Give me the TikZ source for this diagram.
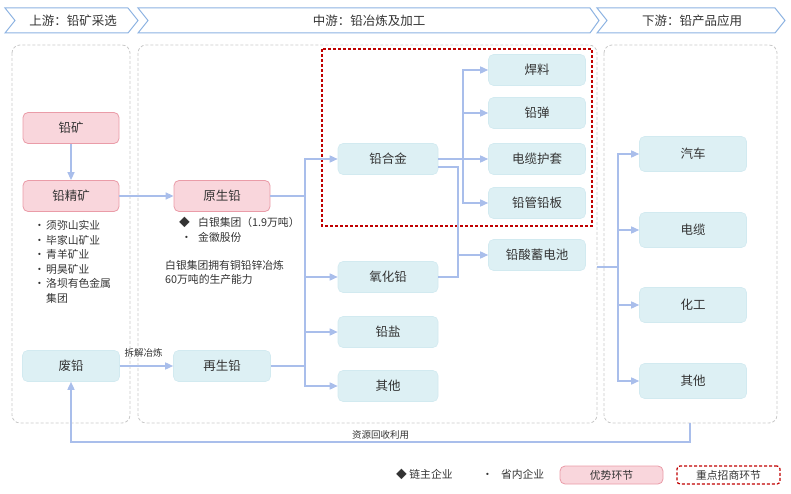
\documentclass[tikz,border=0pt]{standalone}
\usepackage{fontspec}
\setmainfont{Noto Sans CJK SC}
\usetikzlibrary{arrows.meta, positioning, calc}
\definecolor{hdrblue}{HTML}{8DB3E2}
\definecolor{pkfill}{HTML}{F9D6DC}
\definecolor{pkdraw}{HTML}{EA9CA8}
\definecolor{cyfill}{HTML}{DDF0F4}
\definecolor{cydraw}{HTML}{D2EAF0}
\definecolor{flowblue}{HTML}{A9BEEB}
\definecolor{keyred}{HTML}{C00000}
\definecolor{panelgray}{HTML}{C8C8C8}
\definecolor{txtgray}{HTML}{333333}
\newcommand{\dotitem}{\makebox[12pt][l]{•}}

\begin{document}
\begin{tikzpicture}[
  x=1pt, y=-1pt,
  every node/.style={font=\fontsize{12.5}{15}\selectfont, text=txtgray},
  hdr/.style={draw=hdrblue, line width=1pt, fill=white},
  panel/.style={draw=panelgray, densely dashed, line width=0.8pt, rounded corners=8pt},
  strong/.style={rectangle, rounded corners=5pt, draw=pkdraw, fill=pkfill, line width=0.8pt, minimum width=96pt, minimum height=31pt},
  stage/.style={rectangle, rounded corners=5pt, draw=cydraw, fill=cyfill, line width=0.6pt, minimum width=97pt, minimum height=31pt},
  focus/.style={draw=keyred, densely dashed, line width=1.2pt},
  link/.style={draw=flowblue, line width=1.5pt},
  flow/.style={link, -{Triangle[length=8pt, width=7pt]}},
  list/.style={font=\fontsize{10.8}{14.5}\selectfont, inner sep=0pt},
  note/.style={font=\fontsize{9.5}{11}\selectfont, inner sep=1pt},
]
\useasboundingbox (0,0) rectangle (791,494);

% Stage headers
\draw[hdr] (5,8) -- (128,8) -- (138,20.5) -- (128,33) -- (5,33) -- (15,20.5) -- cycle;
\draw[hdr] (138,8) -- (590,8) -- (599,20.5) -- (590,33) -- (138,33) -- (148,20.5) -- cycle;
\draw[hdr] (597,8) -- (775,8) -- (785,20.5) -- (775,33) -- (597,33) -- (607,20.5) -- cycle;
\node (hdrUp) at (73,20.5) {上游：铅矿采选};
\node (hdrMid) at (369,20.5) {中游：铅冶炼及加工};
\node (hdrDown) at (692,20.5) {下游：铅产品应用};

% Panels
\draw[panel] (12,45) rectangle (130,423);
\draw[panel] (138,45) rectangle (597,423);
\draw[panel] (604,45) rectangle (777,423);
\draw[focus] (322,49) rectangle (592,226);

% Upstream
\node[strong] (ore) at (71,128) {铅矿};
\node[strong] (conc) at (71,196) {铅精矿};
\node[stage] (scrap) at (71,366) {废铅};
\node[list, anchor=north west] (miners) at (34,219.5) {\begin{tabular}{@{}l@{}l@{}}
\dotitem & 须弥山实业\\
\dotitem & 毕家山矿业\\
\dotitem & 青羊矿业\\
\dotitem & 明昊矿业\\
\dotitem & 洛坝有色金属\\
 & 集团
\end{tabular}};

% Midstream
\node[strong] (primary) at (222,196) {原生铅};
\node[stage] (second) at (222,366) {再生铅};
\node[list, anchor=north west] (smelters) at (179,216.5) {\begin{tabular}{@{}l@{}l@{}}
\makebox[19pt][l]{◆} & 白银集团（1.9万吨）\\
\makebox[19pt][l]{\hspace{2pt}•} & 金徽股份
\end{tabular}};
\node[list, anchor=north west, align=left] (capacity) at (165,260) {白银集团拥有铜铅锌冶炼\\60万吨的生产能力};

\node[stage, minimum width=100pt] (alloy) at (388,159) {铅合金};
\node[stage, minimum width=100pt] (oxide) at (388,277) {氧化铅};
\node[stage, minimum width=100pt] (salt) at (388,332) {铅盐};
\node[stage, minimum width=100pt] (otherMid) at (388,386) {其他};

\node[stage] (solder) at (537,70) {焊料};
\node[stage] (shot) at (537,113) {铅弹};
\node[stage] (sheath) at (537,159) {电缆护套};
\node[stage] (pipe) at (537,203) {铅管铅板};
\node[stage] (battery) at (537,255) {铅酸蓄电池};

% Downstream
\node[stage, minimum width=107pt, minimum height=35pt] (car) at (693,154) {汽车};
\node[stage, minimum width=107pt, minimum height=35pt] (cable) at (693,230) {电缆};
\node[stage, minimum width=107pt, minimum height=35pt] (chem) at (693,305) {化工};
\node[stage, minimum width=107pt, minimum height=35pt] (otherDown) at (693,381) {其他};

% Flows
\draw[flow] (ore) -- (conc);
\draw[flow] (conc) -- (primary);
\draw[flow] (scrap) -- node[note, pos=0, anchor=south west, xshift=3pt, yshift=7pt] (lblDismantle) {拆解冶炼} (second);

\coordinate (busMid) at (305,196);
\foreach \t in {alloy, oxide, salt, otherMid}
  \draw[flow] (primary) -- (busMid) |- (\t);
\draw[link] (second) -- (busMid |- second);

\coordinate (busAlloy) at (463,159);
\foreach \t in {solder, shot, sheath, pipe}
  \draw[flow] (alloy) -- (busAlloy) |- (\t);
\coordinate (busBat) at (458,255);
\draw[link] ($(alloy.east)+(0,8)$) -| (busBat);
\draw[link] (oxide) -| (busBat);
\draw[flow] (busBat) -- (battery);

\coordinate (midOut) at (597,267);
\coordinate (busDown) at (618,267);
\foreach \t in {car, cable, chem, otherDown}
  \draw[flow] (midOut) -- (busDown) |- (\t);

% Recycling
\coordinate (recycle) at (690,423);
\draw[flow] (recycle) -- ++(0,19) coordinate (recCorner)
  -- node[note, above=1pt] (lblRecycle) {资源回收利用} (recCorner -| scrap) -- (scrap);

% Legend
\node[list, anchor=west] (keyChain) at (396,474) {◆ 链主企业};
\node[list, anchor=west] (keyLocal) at (482,474) {•\hspace{8pt}省内企业};
\node[strong, list, minimum width=103pt, minimum height=18pt] (keyStrong) at (611.5,475) {优势环节};
\node[focus, list, rounded corners=3pt, minimum width=103pt, minimum height=18pt] (keyFocus) at (728.5,475) {重点招商环节};

\end{tikzpicture}
\end{document}
